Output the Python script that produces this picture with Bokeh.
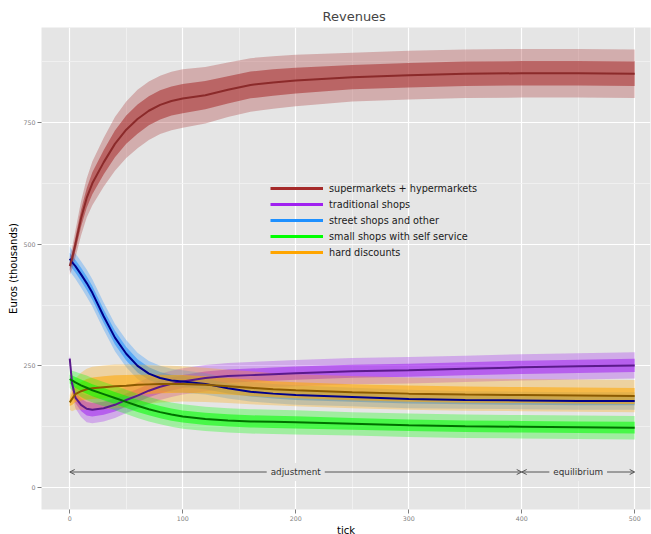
import numpy as np
from bokeh.plotting import figure
from bokeh.models import (Range1d, SingleIntervalTicker, Legend, LegendItem,
                          Arrow, OpenHead, Label)
from bokeh.embed import file_html
from bokeh.resources import INLINE

# ---------------- data ----------------
ticks = [0, 2, 5, 10, 15, 20, 30, 40, 50, 60, 70, 80, 90, 100, 120, 140,
         160, 180, 200, 250, 300, 350, 400, 450, 500]

supermarkets = [455, 470, 500, 553, 595, 625, 668, 706, 735, 757, 774, 786, 794,
                799, 806, 817, 827, 832, 836, 843, 847, 850, 851, 851, 850]
supermarkets_spread = [18, 22, 28, 35, 40, 45, 50, 55, 58, 60, 60, 60, 60, 60,
                       58, 56, 55, 54, 53, 50, 50, 50, 50, 50, 50]

traditional = [265, 215, 185, 170, 162, 160, 163, 170, 180, 189, 199, 207, 213,
               218, 225, 229, 231, 233, 235, 239, 241, 244, 247, 249, 251]
traditional_spread = [10, 20, 22, 25, 28, 28, 27, 27, 27, 27, 27, 27, 27, 27,
                      27, 27, 27, 27, 27, 27, 27, 27, 27, 27, 27]

street = [470, 463, 455, 438, 420, 400, 352, 308, 275, 250, 234, 225, 220, 218,
          213, 204, 197, 193, 190, 186, 182, 180, 179, 178, 178]
street_spread = [25, 25, 26, 27, 28, 28, 28, 28, 28, 27, 26, 25, 24, 23, 22, 21,
                 20, 20, 20, 19, 19, 18, 18, 18, 18]

small_self = [223, 220, 216, 210, 205, 200, 192, 184, 176, 168, 161, 155, 150,
              146, 141, 138, 136, 135, 134, 131, 128, 126, 125, 124, 123]
small_self_spread = [18, 20, 22, 24, 25, 25, 25, 25, 25, 25, 25, 25, 25, 25, 25,
                     25, 25, 25, 25, 24, 24, 24, 24, 24, 24]

hard = [175, 182, 192, 198, 202, 204, 206, 208, 209, 211, 212, 213, 213, 213,
        211, 208, 205, 202, 200, 196, 193, 191, 190, 189, 188]
hard_spread = [15, 25, 32, 38, 42, 44, 45, 45, 44, 42, 40, 38, 37, 36, 35, 34,
               34, 33, 33, 33, 33, 33, 33, 33, 33]

series_names = ["supermarkets + hypermarkets", "traditional shops",
                "street shops and other", "small shops with self service",
                "hard discounts"]

phases = ["adjustment", "equilibrium"]
phase_start = [0, 400]
phase_end = [400, 500]
phase_level = 32

# ---------------- styling ----------------
point_colors = ["#A52A2A", "#A020F0", "#1E90FF", "#00FF00", "#FFA500"]
smooth_colors = ["#8B2A2A", "#5A1A8B", "#00008B", "#007000", "#8B5A00"]
FONT = "DejaVu Sans"

p = figure(frame_width=609, frame_height=482, x_range=Range1d(-25, 514),
           y_range=Range1d(-45, 945), output_backend="svg",
           toolbar_location=None, min_border_left=41, min_border_right=1,
           min_border_top=27, min_border_bottom=25)

p.background_fill_color = "#E5E5E5"
p.border_fill_color = "white"
p.outline_line_color = None

p.xaxis.ticker = SingleIntervalTicker(interval=100, num_minor_ticks=2)
p.yaxis.ticker = SingleIntervalTicker(interval=250, num_minor_ticks=2)
for g in (p.xgrid, p.ygrid):
    g.grid_line_color = "white"
    g.grid_line_width = 1.2
    g.minor_grid_line_color = "#F2F2F2"
    g.minor_grid_line_width = 0.8

for ax in (p.xaxis, p.yaxis):
    ax.axis_line_color = None
    ax.major_tick_line_color = "#7f7f7f"
    ax.major_tick_in = 0
    ax.major_tick_out = 4
    ax.minor_tick_line_color = None
    ax.major_label_text_font = FONT
    ax.major_label_text_font_size = "6.3px"
    ax.major_label_text_color = "#7f7f7f"
    ax.major_label_standoff = 2
    ax.axis_label_text_font = FONT
    ax.axis_label_text_font_size = "10px"
    ax.axis_label_text_font_style = "normal"
    ax.axis_label_text_color = "black"
    ax.axis_label_standoff = 1
p.xaxis.axis_label = "tick"
p.yaxis.axis_label = "Euros (thousands)"

p.title.text = "Revenues"
p.title.align = "left"
p.title.text_font = FONT
p.title.text_font_size = "13px"
p.title.text_font_style = "normal"
p.title.offset = 281
p.title.standoff = 7

x = np.array(ticks, dtype=float)
all_vals = [supermarkets, traditional, street, small_self, hard]
all_spread = [supermarkets_spread, traditional_spread, street_spread,
              small_self_spread, hard_spread]

# scatter clouds as bands (outer sparse, inner dense)
draw_order = [1, 2, 4, 3, 0]
for i in draw_order:
    v = np.array(all_vals[i], dtype=float)
    s = np.array(all_spread[i], dtype=float)
    p.varea(x=x, y1=v - s, y2=v + s, fill_color=point_colors[i], fill_alpha=0.3)
    p.varea(x=x, y1=v - 0.5 * s, y2=v + 0.5 * s, fill_color=point_colors[i],
            fill_alpha=0.55)

# smoothed lines
for i in draw_order:
    p.line(x=x, y=all_vals[i], line_color=smooth_colors[i], line_width=2)

# legend with proxy lines (single point -> draws nothing on the plot)
items = []
for name, c, vals in zip(series_names, point_colors, all_vals):
    r = p.line(x=[ticks[0]], y=[vals[0]], line_color=c, line_width=3)
    items.append(LegendItem(label=name, renderers=[r]))
legend = Legend(items=items, location=(229, 249), background_fill_alpha=0,
                border_line_color=None, padding=0, margin=0, spacing=0,
                glyph_width=53, glyph_height=16, label_height=16,
                label_standoff=6, label_text_font=FONT,
                label_text_font_size="9.7px", label_text_color="#1a1a1a")
p.add_layout(legend)

# phase annotation
for name, a, b in zip(phases, phase_start, phase_end):
    p.add_layout(Arrow(x_start=a, y_start=phase_level, x_end=b, y_end=phase_level,
                       start=OpenHead(size=5, line_color="#555555", line_width=1),
                       end=OpenHead(size=5, line_color="#555555", line_width=1),
                       line_color="#555555", line_width=1))
    p.add_layout(Label(x=(a + b) / 2, y=phase_level, text=name,
                       text_align="center", text_baseline="middle",
                       text_font=FONT, text_font_size="8.8px",
                       text_color="#333333", background_fill_color="#E5E5E5",
                       padding=4))

open("out.html", "w").write(file_html(p, INLINE))
